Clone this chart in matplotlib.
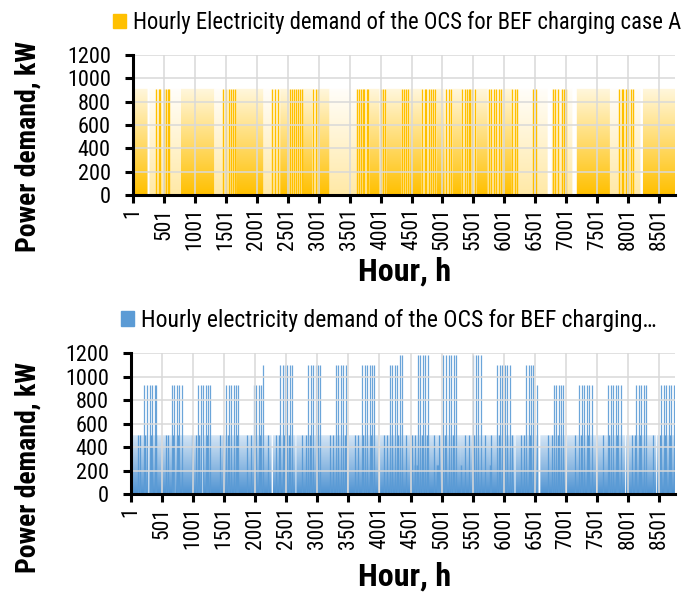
import numpy as np
import matplotlib
matplotlib.use('Agg')
import matplotlib.pyplot as plt
from matplotlib import font_manager as fm
from matplotlib.colors import LinearSegmentedColormap
from matplotlib.path import Path
from matplotlib.patches import Rectangle

# narrow face, first one that is installed
names = {f.name for f in fm.fontManager.ttflist}
FONT = next((n for n in ['Roboto Condensed', 'Barlow Semi Condensed', 'Fira Sans Condensed', 'Roboto']
             if n in names), 'DejaVu Sans')
plt.rcParams['font.family'] = [FONT, 'DejaVu Sans']

# ---- data ----
hours = np.arange(1, 8761)
xtick_hours = list(range(1, 8761, 500))
ytick_kw = [0, 200, 400, 600, 800, 1000, 1200]

# case A: charging level and where it is on
level_a = 910
full_a_start = [1, 777, 1668, 2380, 2736, 3011, 3821, 4096, 4469, 4906, 5165, 5553, 5974, 7172, 8241]
full_a_end = [235, 1311, 2105, 2526, 2898, 3173, 3983, 4339, 4663, 5035, 5310, 5731, 6120, 7706, 8760]
pale_a_start = [267, 372, 600, 1311, 1441, 2105, 2526, 2898, 3173, 3610, 3983, 4339, 4663, 5035,
                5310, 5731, 6120, 6217, 6444, 6525, 6768, 7027, 7706, 7836, 8111]
pale_a_end = [372, 600, 777, 1441, 1668, 2380, 2736, 3011, 3610, 3821, 4096, 4469, 4906, 5165,
              5553, 5974, 6217, 6444, 6525, 6700, 7027, 7100, 7836, 8111, 8200]
spike_a = [377, 416, 442, 497, 534, 562, 588,
           1457, 1511, 1549, 1591, 1619, 1656,
           2250, 2288, 2343,
           2540, 2575, 2605, 2640, 2670, 2700, 2730,
           2910, 2950, 2990,
           3620, 3655, 3690, 3715, 3740, 3775, 3805,
           4000, 4040, 4080,
           4340, 4375, 4410, 4450,
           4668, 4711, 4739, 4781, 4820, 4846, 4873,
           5063, 5105, 5143,
           5322, 5359, 5397, 5429, 5451, 5484, 5521,
           5752, 5791, 5828, 5872, 5914, 5953,
           6131, 6169, 6206,
           6465, 6508,
           6779, 6816, 6870, 6934, 6962, 7005,
           7852, 7896, 7922, 7965, 8003, 8046, 8084]

# case B: base load, gaps, peaks
base_b = 500
gap_b_start = [280, 700, 1150, 2265, 2650, 3485, 3990, 6175, 6560, 7005, 7488, 7955, 8455]
gap_b_end = [295, 712, 1162, 2285, 2662, 3497, 4010, 6190, 6590, 7020, 7500, 7967, 8467]
peak_b = [215, 255, 300, 340, 380, 410,
          660, 700, 740, 780, 815,
          1080, 1120, 1165, 1205, 1245, 1280,
          1530, 1575, 1615, 1655, 1695, 1730,
          1980, 2020, 2055, 2090, 2121,
          2400, 2440, 2480, 2520, 2555, 2585,
          2850, 2895, 2935, 2975, 3015, 3050,
          3300, 3340, 3380, 3420, 3455,
          3720, 3765, 3805, 3845, 3885, 3920,
          4170, 4210, 4250, 4280, 4330, 4360,
          4620, 4660, 4700, 4740, 4775,
          5025, 5070, 5115, 5160, 5200, 5240,
          5510, 5550, 5590, 5630,
          5895, 5940, 5980, 6020, 6060, 6095,
          6360, 6400, 6440, 6480, 6536,
          6810, 6850, 6890, 6930, 6955,
          7215, 7255, 7300, 7340, 7380, 7420,
          7680, 7725, 7765, 7805, 7845, 7885,
          8135, 8175, 8215, 8255, 8290,
          8535, 8575, 8620, 8660, 8700, 8740]
peak_b_kw = [930] * 6 + [930] * 5 + [930] * 6 + [930] * 6 + [930, 930, 930, 930, 1100] \
    + [1100] * 6 + [1100] * 6 + [1100] * 5 + [1100] * 6 + [1100, 1100, 1100, 1100, 1180, 1180] \
    + [1180] * 5 + [1180] * 6 + [1180] * 4 + [1100] * 6 + [1100, 1100, 1100, 1100, 930] \
    + [930] * 5 + [930] * 6 + [930] * 6 + [930] * 5 + [930] * 6
mid_b = [110, 150, 230, 320, 400, 560, 600, 680, 760, 990, 1040, 1100, 1230, 1430, 1480,
         1560, 1700, 1870, 1930, 2000, 2070, 2200, 2340, 2380, 2460, 2540, 2760, 2820,
         2880, 2990, 3200, 3250, 3330, 3440, 3600, 3650, 3740, 3860, 4080, 4130, 4200,
         4300, 4420, 4520, 4580, 4680, 4760, 4880, 4960, 5050, 5180, 5380, 5440, 5530,
         5700, 5800, 5920, 6050, 6130, 6280, 6330, 6420, 6720, 6780, 6870, 7150, 7240,
         7360, 7600, 7700, 7820, 8060, 8110, 8200, 8400, 8520, 8600, 8680]
low_b = [4570, 4600, 4925, 4950, 5310, 5780]
low_b_kw = 250

# hourly series
demand_a = np.zeros(len(hours))
full_mask = np.zeros(len(hours), bool)
pale_mask = np.zeros(len(hours), bool)
for s, e in zip(full_a_start, full_a_end):
    full_mask |= (hours >= s) & (hours <= e)
for s, e in zip(pale_a_start, pale_a_end):
    pale_mask |= (hours >= s) & (hours <= e)
demand_a[full_mask | pale_mask] = level_a
demand_a[np.isin(hours, spike_a)] = level_a

demand_b = np.full(len(hours), float(base_b))
for s, e in zip(gap_b_start, gap_b_end):
    demand_b[(hours >= s) & (hours <= e)] = 0
demand_b[np.isin(hours, low_b)] = low_b_kw
for h, kw in zip(peak_b, peak_b_kw):
    demand_b[hours == h] = kw

GOLD = '#FFC000'
BLUE = '#5B9BD5'


def gradient_fill(ax, y, mask, color, light, top, alpha=1.0):
    vals = np.where(mask, y, 0)
    poly = ax.fill_between(hours, vals, step='mid', facecolor='none', edgecolor='none', lw=0)
    clip = Path.make_compound_path(*poly.get_paths())
    cmap = LinearSegmentedColormap.from_list('g', [light, color])
    im = ax.imshow(np.linspace(1, 0, 256).reshape(-1, 1), cmap=cmap, origin='lower',
                   extent=[0.5, 8760.5, 0, top], aspect='auto', alpha=alpha,
                   interpolation='bilinear', zorder=1)
    im.set_clip_path(clip, ax.transData)


def style(ax, ylab_y, xlab_y):
    ax.set_xlim(1, 8760)
    ax.set_ylim(0, 1200)
    ax.set_xticks(xtick_hours)
    ax.set_xticklabels([str(h) for h in xtick_hours], rotation=90, fontsize=15.5)
    ax.set_yticks(ytick_kw)
    ax.set_yticklabels([str(v) for v in ytick_kw], fontsize=16)
    ax.grid(True, color='#D9D9D9', lw=1.1, zorder=3)
    ax.set_axisbelow(False)
    for sp in ['top', 'right']:
        ax.spines[sp].set_visible(False)
    for sp in ['left', 'bottom']:
        ax.spines[sp].set_linewidth(2.2)
        ax.spines[sp].set_zorder(5)
    ax.tick_params(direction='out', length=6, width=2.2)
    ax.tick_params(axis='y', pad=10)
    ax.tick_params(axis='x', pad=3)
    ax.set_xlabel('Hour, h', fontsize=23, fontweight='bold')
    ax.set_ylabel('Power demand, kW', fontsize=20, fontweight='bold')
    ax.yaxis.set_label_coords(0.040, ylab_y, transform=fig.transFigure)
    ax.xaxis.set_label_coords(0.585, xlab_y, transform=fig.transFigure)
    ax.yaxis.label.set_va('center')
    ax.xaxis.label.set_va('center')


fig = plt.figure(figsize=(6.91, 5.92), dpi=100)
ax1 = fig.add_axes([0.1925, 0.6706, 0.7845, 0.2365])
ax2 = fig.add_axes([0.1896, 0.1655, 0.7874, 0.2382])

# case A
gradient_fill(ax1, demand_a, full_mask, GOLD, '#FFFAEA', 960)
gradient_fill(ax1, demand_a, pale_mask & ~full_mask, GOLD, '#FFFFFF', 960, alpha=0.35)
ax1.vlines(spike_a, 0, demand_a[np.isin(hours, spike_a)], color=GOLD, lw=1.0, zorder=2)
style(ax1, 0.752, 0.541)
ax1.legend(handles=[Rectangle((0, 0), 1, 1, color=GOLD)],
           labels=['Hourly Electricity demand of the OCS for BEF charging case A'],
           loc='center left', bbox_to_anchor=(0.164, 0.962), bbox_transform=fig.transFigure,
           frameon=False, fontsize=16.3, handlelength=0.55, handleheight=0.55,
           handletextpad=0.3, borderaxespad=0, borderpad=0)

# case B
gradient_fill(ax2, demand_b, demand_b > 0, '#4F93D2', '#F0F6FC', 600)
pk = np.isin(hours, peak_b)
ax2.vlines(hours[pk], 0, demand_b[pk], color=BLUE, lw=0.9, alpha=0.9, zorder=2)
ax2.vlines(mid_b, 0, base_b, color=BLUE, lw=0.9, zorder=2)
ax2.vlines(low_b, 0, low_b_kw, color=BLUE, lw=1.0, zorder=2)
style(ax2, 0.211, 0.027)
ax2.legend(handles=[Rectangle((0, 0), 1, 1, color=BLUE)],
           labels=['Hourly electricity demand of the OCS for BEF charging\u2026'],
           loc='center left', bbox_to_anchor=(0.175, 0.459), bbox_transform=fig.transFigure,
           frameon=False, fontsize=17, handlelength=0.55, handleheight=0.55,
           handletextpad=0.3, borderaxespad=0, borderpad=0)

fig.savefig('out.png', dpi=100)
